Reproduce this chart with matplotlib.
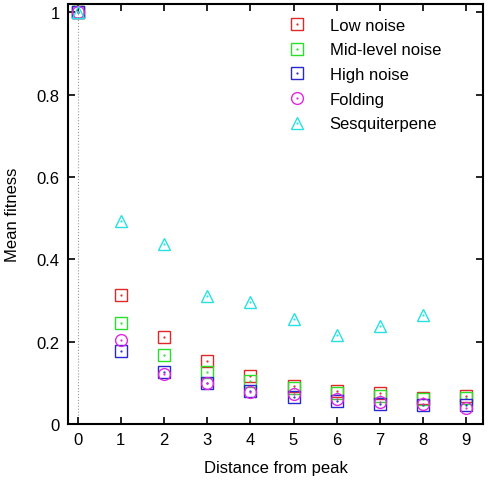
import matplotlib
matplotlib.use('Agg')
import matplotlib.pyplot as plt
from matplotlib.legend_handler import HandlerTuple

plt.rcParams['font.family'] = ['Liberation Sans', 'DejaVu Sans']

# --- DATA ---
distance = [0, 1, 2, 3, 4, 5, 6, 7, 8, 9]
low_noise = [1.0, 0.314, 0.212, 0.154, 0.117, 0.093, 0.081, 0.075, 0.062, 0.069]
mid_noise = [1.0, 0.245, 0.168, 0.126, 0.105, 0.087, 0.075, 0.069, 0.060, 0.064]
high_noise = [1.0, 0.177, 0.126, 0.099, 0.079, 0.066, 0.056, 0.048, 0.045, 0.045]
folding = [1.0, 0.204, 0.121, 0.099, 0.077, 0.072, 0.061, 0.053, 0.048, 0.038]
sesq_dist = [0, 1, 2, 3, 4, 5, 6, 7, 8]
sesquiterpene = [1.0, 0.492, 0.437, 0.311, 0.297, 0.255, 0.215, 0.238, 0.265]

x_ticks = [0, 1, 2, 3, 4, 5, 6, 7, 8, 9]
y_ticks = [0, 0.2, 0.4, 0.6, 0.8, 1.0]
y_tick_labels = ['0', '0.2', '0.4', '0.6', '0.8', '1']

series = [
    ('Low noise', distance, low_noise, 's', '#e02828'),
    ('Mid-level noise', distance, mid_noise, 's', '#28e028'),
    ('High noise', distance, high_noise, 's', '#2828d0'),
    ('Folding', distance, folding, 'o', '#e028e0'),
    ('Sesquiterpene', sesq_dist, sesquiterpene, '^', '#28e0e0'),
]

fig = plt.figure(figsize=(4.94, 4.81), dpi=100)
ax = fig.add_axes([0.1377, 0.1164, 0.8403, 0.8732])

# dotted line at x = 0
ax.axvline(0, color='#999999', linestyle=':', linewidth=0.8, zorder=0)

handles = []
labels = []
for name, xs, ys, mk, col in series:
    h1, = ax.plot(xs, ys, linestyle='none', marker=mk, markersize=8.5,
                  markerfacecolor='none', markeredgecolor=col, markeredgewidth=1.0)
    h2, = ax.plot(xs, ys, linestyle='none', marker='.', markersize=1.2, color=col)
    handles.append((h1, h2))
    labels.append(name)

ax.set_xlim(-0.22, 9.39)
ax.set_ylim(0, 1.02)
ax.set_xticks(x_ticks)
ax.set_yticks(y_ticks)
ax.set_yticklabels(y_tick_labels)
ax.tick_params(direction='in', length=5, width=1.2, top=True, right=True,
               labelsize=12, pad=6)
for sp in ax.spines.values():
    sp.set_linewidth(1.5)

ax.set_xlabel('Distance from peak', fontsize=12, labelpad=9)
ax.set_ylabel('Mean fitness', fontsize=12, labelpad=12)

ax.legend(handles, labels, handler_map={tuple: HandlerTuple(ndivide=1)},
          loc='upper left', bbox_to_anchor=(0.506, 0.995), frameon=False,
          fontsize=12, handlelength=0.9, handletextpad=1.5, labelspacing=0.58,
          borderaxespad=0.3)

fig.savefig('out.png', dpi=100)
